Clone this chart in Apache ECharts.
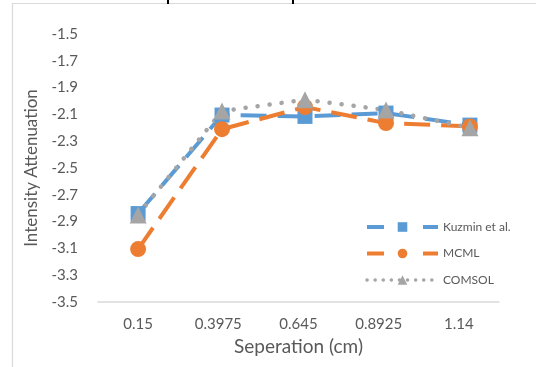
<!DOCTYPE html>
<html>
<head>
<meta charset="utf-8">
<script src="https://cdn.jsdelivr.net/npm/echarts@6/dist/echarts.min.js"></script>
<style>html,body{margin:0;padding:0;background:#fff;}#c{width:536px;height:367px;}</style>
</head>
<body>
<div id="c"></div>
<script>
var categories = ['0.15', '0.3975', '0.645', '0.8925', '1.14'];
var separation = [0.15, 0.409, 0.665, 0.915, 1.174];
var kuzmin = [-2.84, -2.105, -2.115, -2.09, -2.18];
var mcml = [-3.105, -2.21, -2.045, -2.165, -2.19];
var comsol = [-2.85, -2.075, -1.99, -2.067, -2.2];

function pairs(xs, ys) { return xs.map(function (x, i) { return [x, ys[i]]; }); }

var FONT = 'Lato';
var chart = echarts.init(document.getElementById('c'), null, {renderer: 'canvas'});
chart.setOption({
  animation: false,
  backgroundColor: '#fff',
  grid: {left: 98, right: 37, top: 34, bottom: 65},
  xAxis: [{
    type: 'category', data: categories, boundaryGap: true,
    axisLine: {show: true, lineStyle: {color: '#d9d9d9', width: 1.5}},
    axisTick: {show: false},
    axisLabel: {color: '#595959', fontFamily: FONT, fontSize: 15, margin: 15},
    splitLine: {show: false},
    name: 'Seperation (cm)', nameLocation: 'middle', nameGap: 32,
    nameTextStyle: {color: '#595959', fontFamily: FONT, fontSize: 19}
  }, {
    type: 'value', min: 0.02625, max: 1.26375, show: false
  }],
  yAxis: {
    type: 'value', min: -3.5, max: -1.5, interval: 0.2,
    axisLine: {show: false}, axisTick: {show: false}, splitLine: {show: false},
    axisLabel: {color: '#595959', fontFamily: FONT, fontSize: 15, margin: 20,
      formatter: function (v) { return (Math.round(v * 10) / 10).toFixed(1); }},
    name: 'Intensity Attenuation', nameLocation: 'middle', nameGap: 58,
    nameTextStyle: {color: '#595959', fontFamily: FONT, fontSize: 17}
  },
  legend: {
    orient: 'vertical', left: 360, top: 216, itemWidth: 71, itemHeight: 12, itemGap: 14.5,
    textStyle: {color: '#595959', fontFamily: FONT, fontSize: 12},
    data: [
      {name: 'Kuzmin et al.', lineStyle: {type: [17, 39], width: 4}},
      {name: 'MCML', lineStyle: {type: [17, 39], width: 4}},
      {name: 'COMSOL', lineStyle: {type: [0.1, 8], width: 3.5, cap: 'round'}}
    ]
  },
  graphic: [
    {type: 'rect', silent: true, shape: {x: 12.5, y: 3.5, width: 700, height: 500},
      style: {fill: null, stroke: '#d9d9d9', lineWidth: 1.2}, z: -1},
    {type: 'rect', silent: true, shape: {x: 167, y: 0, width: 2, height: 4}, style: {fill: '#000'}},
    {type: 'rect', silent: true, shape: {x: 292, y: 0, width: 2, height: 4}, style: {fill: '#000'}}
  ],
  series: [{
    name: 'Kuzmin et al.', type: 'line', xAxisIndex: 1, data: pairs(separation, kuzmin),
    symbol: 'rect', symbolSize: 15,
    itemStyle: {color: '#5B9BD5'},
    lineStyle: {color: '#5B9BD5', width: 4, type: [26, 11]}
  }, {
    name: 'MCML', type: 'line', xAxisIndex: 1, data: pairs(separation, mcml),
    symbol: 'circle', symbolSize: 16,
    itemStyle: {color: '#ED7D31'},
    lineStyle: {color: '#ED7D31', width: 4, type: [26, 11]}
  }, {
    name: 'COMSOL', type: 'line', xAxisIndex: 1, data: pairs(separation, comsol),
    symbol: 'triangle', symbolSize: 17,
    itemStyle: {color: '#A5A5A5'},
    lineStyle: {color: '#A5A5A5', width: 4.5, type: [0.1, 12], cap: 'round'}
  }]
});
</script>
</body>
</html>
